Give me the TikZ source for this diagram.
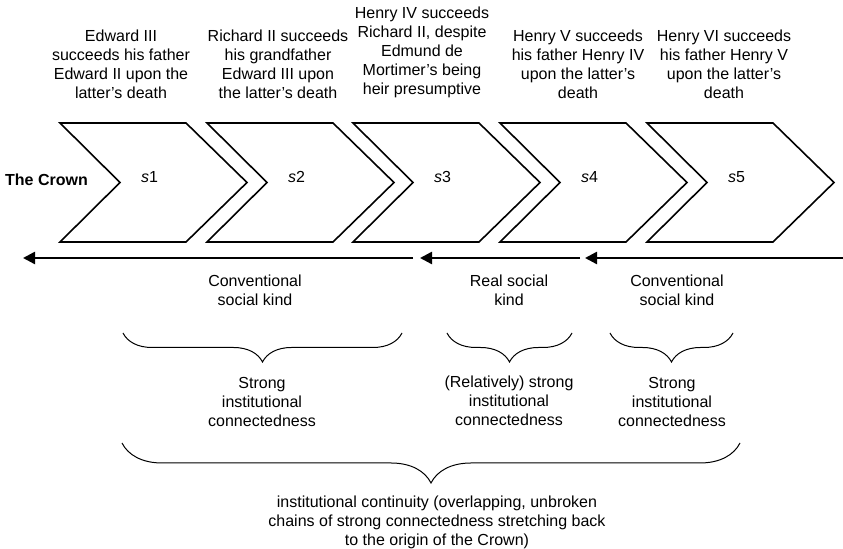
\documentclass[tikz,border=0pt]{standalone}
\usepackage{fontspec}
\setmainfont{Liberation Sans}
\usetikzlibrary{arrows.meta,decorations.pathreplacing}

\begin{document}
\begin{tikzpicture}[x=0.5pt,y=-0.5pt,
  every node/.style={font=\fontsize{8}{9.5}\selectfont,align=center,inner sep=0pt},
  chev/.style={line width=0.8pt,line join=miter},
  kindarrow/.style={line width=1.2pt,-{Triangle[length=6pt,width=6pt]}},
  brc/.style={decorate,decoration={brace,mirror,amplitude=#1},line width=0.5pt}]
  \useasboundingbox (0,0) rectangle (843,549);
  % the five successions as chevrons
  \foreach \i/\l in {1/60,2/207,3/353,4/500,5/647} {
    \draw[chev] (\l,123) -- ++(126,0) -- ++(61,59.5) -- ++(-61,59.5) -- ++(-126,0) -- ++(60,-59.5) -- cycle;
    \node (s\i) at (\l+89.5,177) {\textit{s}\i};
  }
  \node[font=\fontsize{8}{9.5}\selectfont\bfseries] (crown) at (46.5,180) {The Crown};
  % what each succession was
  \node (t1) at (121,64.5) {Edward III\\succeeds his father\\Edward II upon the\\latter's death};
  \node (t2) at (278,64.5) {Richard II succeeds\\his grandfather\\Edward III upon\\the latter's death};
  \node (t3) at (422,52.5) {Henry IV succeeds\\Richard II, despite\\Edmund de\\Mortimer's being\\heir presumptive};
  \node (t4) at (578,64.5) {Henry V succeeds\\his father Henry IV\\upon the latter's\\death};
  \node (t5) at (724,64.5) {Henry VI succeeds\\his father Henry V\\upon the latter's\\death};
  % arrows back in time
  \coordinate (a1s) at (413,258); \coordinate (a1e) at (23,258);
  \coordinate (a2s) at (580,258); \coordinate (a2e) at (420,258);
  \coordinate (a3s) at (843,258); \coordinate (a3e) at (585,258);
  \draw[kindarrow] (a1s) -- (a1e);
  \draw[kindarrow] (a2s) -- (a2e);
  \draw[kindarrow] (a3s) -- (a3e);
  \node (k1) at (255,290.5) {Conventional\\social kind};
  \node (k2) at (509,290.5) {Real social\\kind};
  \node (k3) at (677,290.5) {Conventional\\social kind};
  % braces for connectedness
  \coordinate (b1l) at (123,333); \coordinate (b1r) at (402,333);
  \coordinate (b2l) at (447,333); \coordinate (b2r) at (572,333);
  \coordinate (b3l) at (610,333); \coordinate (b3r) at (733,333);
  \coordinate (b4l) at (122,443); \coordinate (b4r) at (740,443);
  \draw[brc=14.5pt] (b1l) -- (b1r);
  \draw[brc=14.5pt] (b2l) -- (b2r);
  \draw[brc=14.5pt] (b3l) -- (b3r);
  \draw[brc=20pt] (b4l) -- (b4r);
  \node (c1) at (262,402) {Strong\\institutional\\connectedness};
  \node (c2) at (509,401) {(Relatively) strong\\institutional\\connectedness};
  \node (c3) at (672,402) {Strong\\institutional\\connectedness};
  \node (cont) at (437,522) {institutional continuity (overlapping, unbroken\\chains of strong connectedness stretching back\\to the origin of the Crown)};
\end{tikzpicture}
\end{document}
